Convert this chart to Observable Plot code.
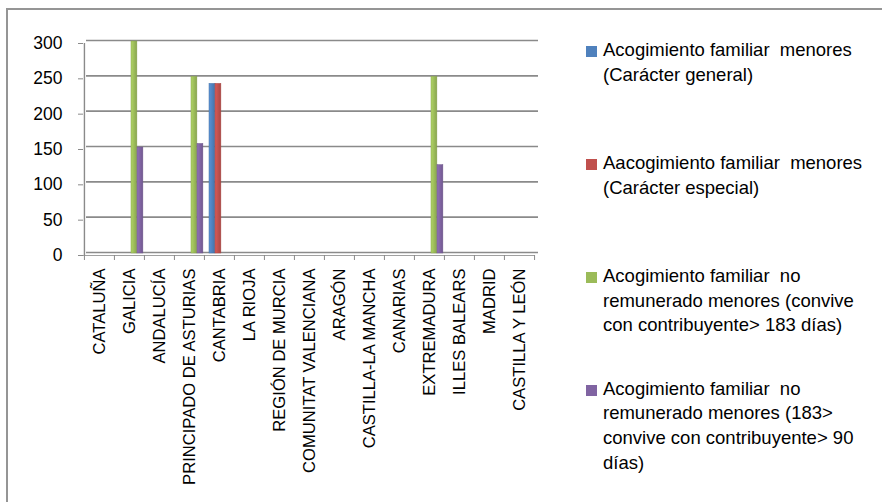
<!DOCTYPE html>
<html>
<head>
<meta charset="utf-8">
<script src="https://cdn.jsdelivr.net/npm/d3@7"></script>
<script src="https://cdn.jsdelivr.net/npm/@observablehq/plot@0.6"></script>
<style>
  html, body { margin: 0; padding: 0; background: #fff; overflow: hidden; }
  #wrap { position: relative; width: 882px; height: 502px; overflow: hidden; font-family: "Liberation Sans", Arial, sans-serif; }
  #border { position: absolute; left: 6px; top: 8px; width: 1000px; height: 1000px; border-left: 2px solid #959595; border-top: 2px solid #959595; }
  #chart { position: absolute; left: 0; top: 0; }
  .entry { position: absolute; left: 586px; font-size: 18.5px; line-height: 24.7px; color: #000; white-space: nowrap; }
  .entry .sw { position: absolute; left: 0; top: 8px; width: 11px; height: 11px; }
  .entry .tx { position: absolute; left: 17px; top: 0; }
</style>
</head>
<body>
<div id="wrap"><div id="border"></div><div id="chart"></div></div>
<script>
const categories = ["CATALUÑA","GALICIA","ANDALUCÍA","PRINCIPADO DE ASTURIAS","CANTABRIA","LA RIOJA","REGIÓN DE MURCIA","COMUNITAT VALENCIANA","ARAGÓN","CASTILLA-LA MANCHA","CANARIAS","EXTREMADURA","ILLES BALEARS","MADRID","CASTILLA Y LEÓN"];
const seriesNames = [
  "Acogimiento familiar  menores (Carácter general)",
  "Aacogimiento familiar  menores (Carácter especial)",
  "Acogimiento familiar  no remunerado menores (convive con contribuyente> 183 días)",
  "Acogimiento familiar  no remunerado menores (183> convive con contribuyente> 90 días)"
];
const legendLines = [
  ["Acogimiento familiar  menores", "(Carácter general)"],
  ["Aacogimiento familiar  menores", "(Carácter especial)"],
  ["Acogimiento familiar  no", "remunerado menores (convive", "con contribuyente> 183 días)"],
  ["Acogimiento familiar  no", "remunerado menores (183>", "convive con contribuyente> 90", "días)"]
];
const seriesColors = ["#4F81BD", "#C0504D", "#9BBB59", "#8064A2"];
const caracterGeneral   = [0, 0,   0, 0,   240, 0, 0, 0, 0, 0, 0, 0,   0, 0, 0];
const caracterEspecial  = [0, 0,   0, 0,   240, 0, 0, 0, 0, 0, 0, 0,   0, 0, 0];
const noRemunerado183   = [0, 300, 0, 250, 0,   0, 0, 0, 0, 0, 0, 250, 0, 0, 0];
const noRemunerado90    = [0, 150, 0, 155, 0,   0, 0, 0, 0, 0, 0, 125, 0, 0, 0];
const yTicks = [0, 50, 100, 150, 200, 250, 300];

const seriesValues = [caracterGeneral, caracterEspecial, noRemunerado183, noRemunerado90];

const W = 882, H = 502, mL = 83, mR = 347, mT = 43, mB = 247;
const step = (W - mL - mR) / categories.length;
const barW = 6, lead = 5;
const font = '"Liberation Sans", Arial, sans-serif';

const barMarks = seriesValues.map((vals, i) => {
  const rows = categories.map((c, j) => ({category: c, value: vals[j], series: seriesNames[i]})).filter(d => d.value > 0);
  return Plot.barY(rows, {
    x: "category", y: "value", fill: `url(#grad${i})`,
    stroke: d3.color(seriesColors[i]).darker(0.4).formatHex(), strokeWidth: 0.5,
    insetLeft: lead + barW * i, insetRight: step - (lead + barW * (i + 1)),
    dy: -2, title: "series"
  });
});

const chart = Plot.plot({
  width: W, height: H,
  marginLeft: mL, marginRight: mR, marginTop: mT, marginBottom: mB,
  style: {fontFamily: font, background: "transparent", color: "#000", overflow: "visible"},
  x: {domain: categories, padding: 0, label: null},
  y: {domain: [0, 300], label: null},
  marks: [
    Plot.ruleY(yTicks, {stroke: "#8a8a8a", strokeWidth: 1.6, dx: 3, dy: -3}),
    Plot.ruleY([0], {stroke: "#a0a0a0", strokeWidth: 1.2}),
    Plot.ruleX([categories[0]], {dx: -step / 2, stroke: "#8a8a8a", strokeWidth: 1.4}),
    ...barMarks,
    Plot.axisY({ticks: yTicks, tickSize: 5, tickPadding: 16, fontSize: 17.5, stroke: "#8a8a8a", tickFormat: d3.format("d")}),
    Plot.axisX({tickSize: 5, tickFormat: () => "", dx: -step / 2, stroke: "#8a8a8a"}),
    Plot.axisX({ticks: [categories[categories.length - 1]], tickSize: 5, tickFormat: () => "", dx: step / 2, stroke: "#8a8a8a"}),
    Plot.axisX({tickSize: 0, tickPadding: 13, tickRotate: -90, fontSize: 16.6})
  ]
});

// horizontal shading for the bars (light left face, darker right edge)
const defs = d3.select(chart).insert("defs", ":first-child");
seriesColors.forEach((c, i) => {
  const base = d3.color(c);
  const g = defs.append("linearGradient").attr("id", `grad${i}`).attr("x1", 0).attr("x2", 1).attr("y1", 0).attr("y2", 0);
  g.append("stop").attr("offset", "0%").attr("stop-color", base.brighter(0.35).formatHex());
  g.append("stop").attr("offset", "55%").attr("stop-color", base.formatHex());
  g.append("stop").attr("offset", "100%").attr("stop-color", base.darker(0.35).formatHex());
});
document.getElementById("chart").appendChild(chart);

const wrap = document.getElementById("wrap");
legendLines.forEach((lines, i) => {
  const e = document.createElement("div");
  e.className = "entry";
  e.style.top = (38.3 + i * 112.8) + "px";
  const sw = document.createElement("div");
  sw.className = "sw";
  sw.style.background = seriesColors[i];
  const tx = document.createElement("div");
  tx.className = "tx";
  tx.innerHTML = lines.map(l => l.replace(/&/g, "&amp;").replace(/</g, "&lt;").replace(/>/g, "&gt;").replace(/  /g, " &nbsp;")).join("<br>");
  e.appendChild(sw);
  e.appendChild(tx);
  wrap.appendChild(e);
});
</script>
</body>
</html>
